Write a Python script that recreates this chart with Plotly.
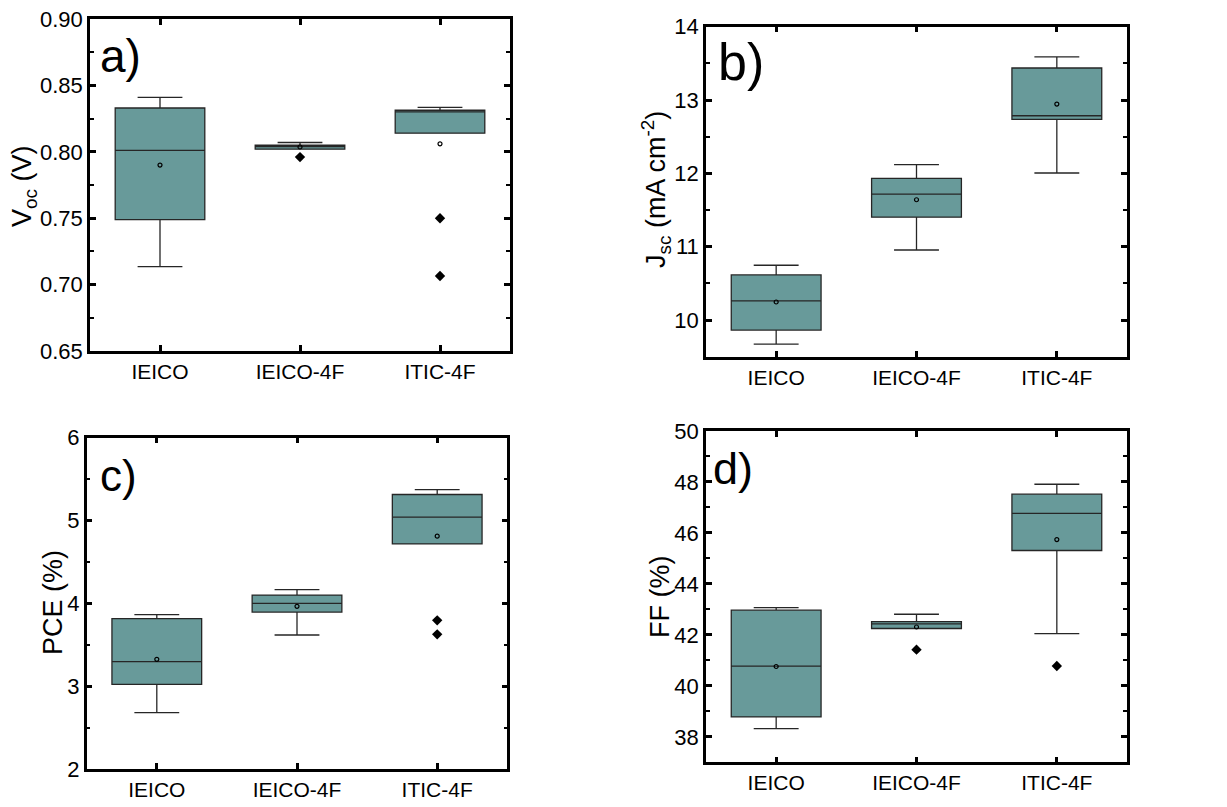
import plotly.graph_objects as go

categories = ["IEICO", "IEICO-4F", "ITIC-4F"]

# Voc (V)
voc_lower = [0.7135, 0.802, 0.814]
voc_q1 = [0.749, 0.802, 0.814]
voc_median = [0.801, 0.8040, 0.830]
voc_q3 = [0.833, 0.805, 0.8313]
voc_upper = [0.841, 0.807, 0.8334]
voc_mean = [0.790, 0.8036, 0.806]
voc_out_x = ["IEICO-4F", "ITIC-4F", "ITIC-4F"]
voc_out_y = [0.796, 0.750, 0.7065]

# Jsc (mA cm-2)
jsc_lower = [9.672, 10.955, 12.005]
jsc_q1 = [9.863, 11.403, 12.736]
jsc_median = [10.26, 11.718, 12.786]
jsc_q3 = [10.615, 11.932, 13.437]
jsc_upper = [10.747, 12.118, 13.588]
jsc_mean = [10.246, 11.64, 12.945]
jsc_out_x = []
jsc_out_y = []

# PCE (%)
pce_lower = [2.68, 3.618, 4.718]
pce_q1 = [3.022, 3.895, 4.718]
pce_median = [3.296, 4.0, 5.04]
pce_q3 = [3.815, 4.10, 5.314]
pce_upper = [3.863, 4.165, 5.374]
pce_mean = [3.324, 3.964, 4.811]
pce_out_x = ["ITIC-4F", "ITIC-4F"]
pce_out_y = [3.795, 3.626]

# FF (%)
ff_lower = [38.32, 42.25, 42.05]
ff_q1 = [38.78, 42.25, 45.31]
ff_median = [40.77, 42.43, 46.77]
ff_q3 = [42.97, 42.52, 47.52]
ff_upper = [43.07, 42.81, 47.91]
ff_mean = [40.76, 42.31, 45.74]
ff_out_x = ["IEICO-4F", "ITIC-4F"]
ff_out_y = [41.42, 40.78]

FONT = "Liberation Sans, Arial, sans-serif"
FILL = "#689a9a"
W, H = 1227, 807

panels = [
    dict(name="a)", lab_size=46, lab_x=98, lab_yc=56,
         stats=(voc_lower, voc_q1, voc_median, voc_q3, voc_upper, voc_mean),
         out=(voc_out_x, voc_out_y),
         xdom=(90, 510), ydom=(19, 351), yrange=[0.65, 0.90],
         dtick=0.05, minor=0.025, fmt=".2f",
         title="V<sub>oc</sub> (V)", title_x=24, title_y=187),
    dict(name="b)", lab_size=52, lab_x=716, lab_yc=62,
         stats=(jsc_lower, jsc_q1, jsc_median, jsc_q3, jsc_upper, jsc_mean),
         out=(jsc_out_x, jsc_out_y),
         xdom=(706, 1127), ydom=(26.7, 356.7), yrange=[9.5, 14],
         dtick=1, minor=0.5, fmt="",
         title="J<sub>sc</sub> (mA cm<sup>-2</sup>)", title_x=656, title_y=190),
    dict(name="c)", lab_size=44, lab_x=98, lab_yc=475,
         stats=(pce_lower, pce_q1, pce_median, pce_q3, pce_upper, pce_mean),
         out=(pce_out_x, pce_out_y),
         xdom=(86.7, 507.3), ydom=(437.7, 769), yrange=[2, 6],
         dtick=1, minor=0.5, fmt="",
         title="PCE (%)", title_x=53, title_y=603),
    dict(name="d)", lab_size=45, lab_x=711, lab_yc=468,
         stats=(ff_lower, ff_q1, ff_median, ff_q3, ff_upper, ff_mean),
         out=(ff_out_x, ff_out_y),
         xdom=(706, 1127), ydom=(431, 762.3), yrange=[37, 50],
         dtick=2, minor=1, fmt="",
         title="FF (%)", title_x=660, title_y=597),
]

fig = go.Figure()
layout = dict(
    width=W, height=H,
    margin=dict(l=0, r=0, t=0, b=0, pad=0),
    paper_bgcolor="white", plot_bgcolor="white",
    showlegend=False,
    font=dict(family=FONT, color="black"),
    annotations=[],
)

for i, p in enumerate(panels):
    n = "" if i == 0 else str(i + 1)
    xa, ya = "x" + n, "y" + n
    lower, q1, med, q3, upper, mean = p["stats"]

    fig.add_trace(go.Box(
        x=categories, q1=q1, median=med, q3=q3,
        lowerfence=lower, upperfence=upper,
        boxpoints=False, width=0.64, whiskerwidth=0.5,
        fillcolor=FILL, line=dict(color="#262626", width=1.3),
        xaxis=xa, yaxis=ya, hoverinfo="skip",
    ))
    fig.add_trace(go.Scatter(
        x=categories, y=mean, mode="markers",
        marker=dict(symbol="circle-open", size=4, color="black",
                    line=dict(color="black", width=1.2)),
        xaxis=xa, yaxis=ya, hoverinfo="skip",
    ))
    ox, oy = p["out"]
    if ox:
        fig.add_trace(go.Scatter(
            x=ox, y=oy, mode="markers",
            marker=dict(symbol="diamond", size=8, color="black"),
            xaxis=xa, yaxis=ya, hoverinfo="skip",
        ))

    x0, x1 = p["xdom"]
    y0, y1 = p["ydom"]
    layout["xaxis" + n] = dict(
        domain=[x0 / W, x1 / W], anchor=ya, automargin=False,
        type="category", categoryorder="array", categoryarray=categories,
        range=[-0.5, 2.5],
        showline=True, linecolor="black", linewidth=2.5, mirror="ticks",
        ticks="inside", ticklen=6, tickwidth=2.5, tickcolor="black",
        tickfont=dict(family=FONT, size=21),
        ticklabelstandoff=0,
        showgrid=False, zeroline=False,
    )
    layout["yaxis" + n] = dict(
        domain=[1 - y1 / H, 1 - y0 / H], anchor=xa, automargin=False,
        range=p["yrange"], dtick=p["dtick"], tick0=0,
        tickformat=p["fmt"],
        showline=True, linecolor="black", linewidth=2.5, mirror="ticks",
        ticks="inside", ticklen=6, tickwidth=2.5, tickcolor="black",
        minor=dict(dtick=p["minor"], ticks="inside", ticklen=4,
                   tickwidth=2, tickcolor="black", showgrid=False),
        tickfont=dict(family=FONT, size=22),
        ticklabelstandoff=0,
        showgrid=False, zeroline=False,
    )
    # rotated y-axis title
    layout["annotations"].append(dict(
        text=p["title"], xref="paper", yref="paper",
        x=p["title_x"] / W, y=1 - p["title_y"] / H,
        xanchor="center", yanchor="middle", textangle=-90,
        showarrow=False, font=dict(family=FONT, size=27, color="black"),
    ))
    # panel letter
    layout["annotations"].append(dict(
        text=p["name"], xref="paper", yref="paper",
        x=p["lab_x"] / W, y=1 - p["lab_yc"] / H,
        xanchor="left", yanchor="middle", showarrow=False,
        font=dict(family=FONT, size=p["lab_size"], color="black"),
    ))

# lower edge of a heading that runs off the top of the page
for ch, px in (("(", 870), (")", 1030)):
    layout["annotations"].append(dict(
        text=ch, xref="paper", yref="paper",
        x=px / W, y=1 - 2 / H, xanchor="center", yanchor="bottom",
        showarrow=False, font=dict(family=FONT, size=40, color="black"),
    ))

fig.update_layout(**layout)
fig.write_html("out.html")
